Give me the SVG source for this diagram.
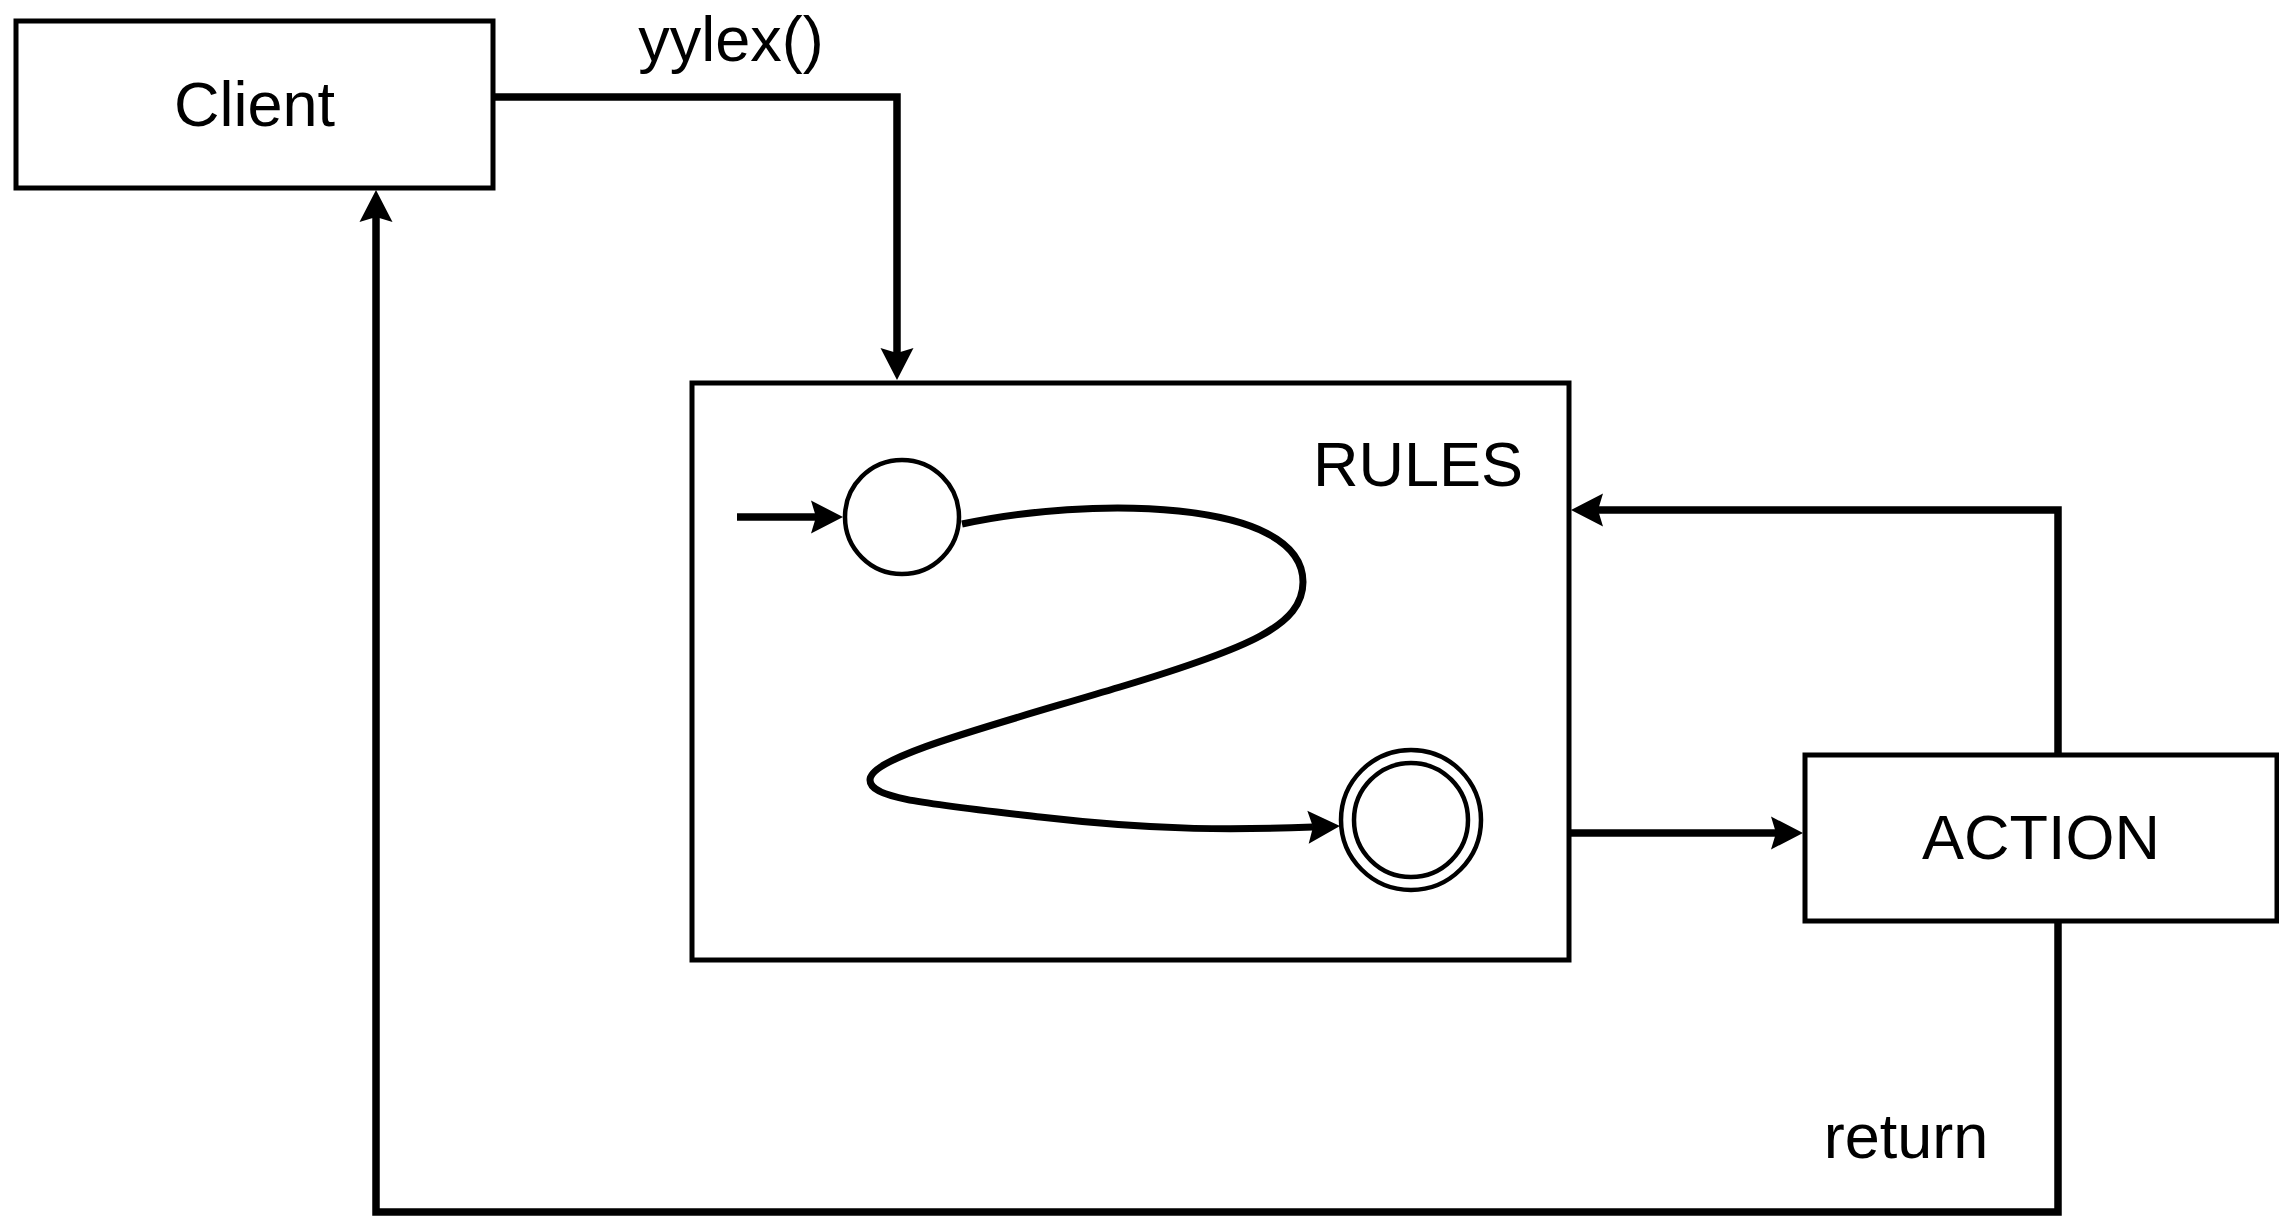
<svg xmlns="http://www.w3.org/2000/svg" width="2279" height="1216" viewBox="0 0 2279 1216">
  <style>
    .box { fill: #ffffff; stroke: #000000; stroke-width: 5; }
    .state { fill: #ffffff; stroke: #000000; stroke-width: 4.5; }
    .edge { fill: none; stroke: #000000; stroke-width: 7.5; stroke-linejoin: miter; }
    .curve { fill: none; stroke: #000000; stroke-width: 7; }
    .label { font-family: "Liberation Sans", Arial, sans-serif; font-size: 63px; fill: #000000; }
  </style>
  <defs>
    <!-- notched arrowhead; the line ends at the notch -->
    <marker id="arrow" markerUnits="userSpaceOnUse" markerWidth="34" markerHeight="36" viewBox="0 -18 34 36" refX="5" refY="0" orient="auto" overflow="visible">
      <path d="M0,-16.5 L32,0 L0,16.5 L5,0 Z" fill="#000000"/>
    </marker>
  </defs>

  <rect width="2279" height="1216" fill="#ffffff"/>

  <g id="client">
    <rect class="box" x="16" y="21" width="477" height="167"/>
    <text class="label" x="254.5" y="126" text-anchor="middle">Client</text>
  </g>

  <g id="rules">
    <rect class="box" x="692" y="383" width="877" height="577"/>
    <text class="label" x="1418" y="486" text-anchor="middle">RULES</text>
  </g>

  <g id="start-state">
    <circle class="state" cx="902" cy="517" r="57"/>
  </g>

  <g id="final-state">
    <circle class="state" cx="1411" cy="820" r="70"/>
    <circle class="state" cx="1411" cy="820" r="57"/>
  </g>

  <g id="action">
    <rect class="box" x="1805" y="755" width="472" height="166"/>
    <text class="label" x="2041" y="859" text-anchor="middle">ACTION</text>
  </g>

  <g id="connectors">
    <!-- Client to RULES -->
    <path class="edge" d="M493 97 H897 V353" marker-end="url(#arrow)"/>
    <text class="label" x="731" y="61" text-anchor="middle">yylex()</text>
    <!-- entry into the start state -->
    <path class="edge" d="M737 517 H816" marker-end="url(#arrow)"/>
    <!-- start state to final state -->
    <path class="curve" d="M962 524 C1085 497, 1303 497, 1303 582 C1303 625, 1250 648, 1120 687 C990 726, 870 757, 870 780 C870 798, 920 803, 1040 817 C1160 831, 1240 830, 1313 827" marker-end="url(#arrow)"/>
    <!-- RULES to ACTION -->
    <path class="edge" d="M1569 833 H1776" marker-end="url(#arrow)"/>
    <!-- ACTION back to RULES -->
    <path class="edge" d="M2058 755 V510 H1598" marker-end="url(#arrow)"/>
    <!-- ACTION returns to Client -->
    <path class="edge" d="M2058 921 V1212 H376 V217" marker-end="url(#arrow)"/>
    <text class="label" x="1906" y="1158" text-anchor="middle">return</text>
  </g>
</svg>
